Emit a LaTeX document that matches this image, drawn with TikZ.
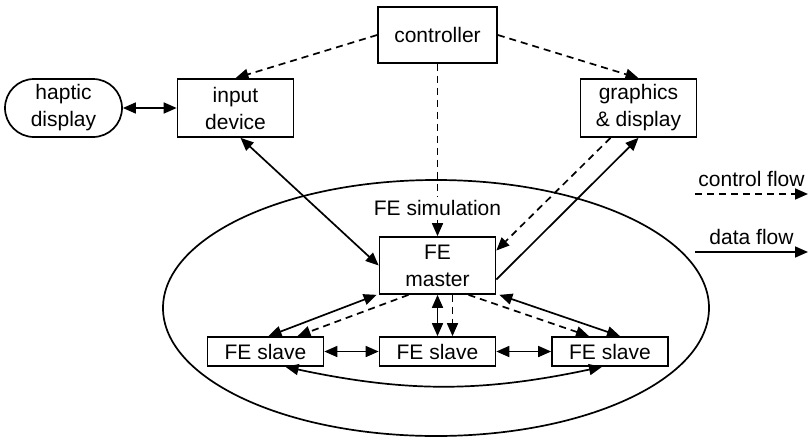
\documentclass[tikz,border=0pt]{standalone}
\usepackage{fontspec}
\setmainfont{Liberation Sans}
\usetikzlibrary{arrows.meta,positioning,shapes.misc}

\begin{document}
\begin{tikzpicture}[x=1pt,y=1pt,on grid,line width=1.7pt,
    font=\fontsize{21}{27}\selectfont,
    >={Triangle[length=13pt,width=11pt]},
    box/.style={draw,rectangle,inner sep=0pt,align=center,minimum width=116pt,minimum height=58pt},
    slavebox/.style={box,minimum height=29pt},
    ctrlflow/.style={dash pattern=on 7pt off 5pt}]
    \useasboundingbox (0,0) rectangle (810,-436);
    \node[box,minimum width=119pt,minimum height=56pt] (controller) at (437.5,-35) {controller};
    \node[box] (input)    [below left=73pt and 202pt of controller] {input\\device};
    \node[box,rounded rectangle,minimum width=117pt] (haptic) [left=172pt of input] {haptic\\display};
    \node[box] (graphics) [right=403pt of input] {graphics\\\& display};
    \node (feSim)         [below=173pt of controller] {FE simulation};
    \node[box,minimum height=57pt] (master) [below=57.5pt of feSim] {FE\\master};
    \node[slavebox] (slaveB) [below=86pt of master]     {FE slave};
    \node[slavebox] (slaveA) [left=172pt of slaveB]     {FE slave};
    \node[slavebox] (slaveC) [right=172.5pt of slaveB]  {FE slave};
    % the simulation
    \draw (436,-308) ellipse [x radius=273pt, y radius=128pt];
    % data flow
    \path[<->]
    (haptic) edge (input)
    ([xshift=5pt]input.south) edge (master.west)
    (slaveA) edge (slaveB)
    (slaveB) edge (slaveC)
    (master.south) edge (slaveB.north)
    ([xshift=-2pt]master.south west) edge ([xshift=3pt]slaveA.north)
    ([xshift=3pt]master.south east) edge ([xshift=10pt]slaveC.north)
    ([xshift=20pt]slaveA.south) edge [bend right=12] ([xshift=-8pt]slaveC.south);
    \path[->]
    ([yshift=-14pt]master.east) edge (graphics.south);
    % control flow
    \path[ctrlflow] (controller) edge (feSim);
    \path[->,ctrlflow]
    (controller.west) edge (input.north)
    (controller.east) edge (graphics.north)
    (feSim) edge (master)
    ([xshift=-28pt]graphics.south) edge ([yshift=15pt]master.east)
    ([xshift=-29pt]master.south) edge ([xshift=32pt]slaveA.north)
    ([xshift=15pt]master.south) edge ([xshift=15pt]slaveB.north)
    ([xshift=31pt]master.south) edge ([xshift=-21pt]slaveC.north);
    % key
    \coordinate (ctrlKeyA) at (695,-194);
    \coordinate[right=113pt of ctrlKeyA] (ctrlKeyB);
    \coordinate[below=58pt of ctrlKeyA] (dataKeyA);
    \coordinate[right=113pt of dataKeyA] (dataKeyB);
    \draw[->,ctrlflow] (ctrlKeyA) -- node[midway,above,inner sep=6pt] {control flow} (ctrlKeyB);
    \draw[->] (dataKeyA) -- node[midway,above,inner sep=6pt] {data flow} (dataKeyB);
\end{tikzpicture}
\end{document}
